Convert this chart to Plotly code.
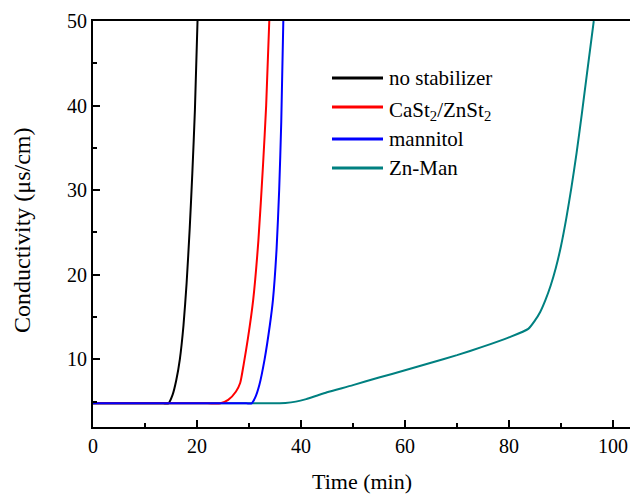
import plotly.graph_objects as go

# ---- data ----
t_none = [0, 5, 10, 13.5, 14.5, 15.3, 16.0, 16.7, 17.4, 18.0, 18.6, 19.1, 19.6, 20.1]
c_none = [4.8, 4.8, 4.8, 4.8, 4.8, 5.8, 7.5, 10.0, 14.0, 19.0, 25.5, 32.0, 39.5, 50.0]

t_ca = [0, 8, 16, 22, 24.5, 26.0, 27.5, 28.3, 29.0, 29.8, 30.8, 31.8, 32.7, 33.3, 33.9]
c_ca = [4.8, 4.8, 4.8, 4.8, 4.8, 5.2, 6.2, 7.2, 9.5, 12.5, 17.0, 24.0, 33.0, 40.0, 50.0]

t_man = [0, 10, 20, 27, 29.5, 30.5, 31.2, 32.0, 33.0, 34.0, 34.6, 35.3, 35.8, 36.2, 36.6]
c_man = [4.8, 4.8, 4.8, 4.8, 4.8, 4.8, 5.5, 7.0, 10.0, 14.0, 17.0, 23.0, 30.0, 38.0, 50.0]

t_zn = [0, 10, 20, 30, 34, 37, 39, 41, 43, 45, 50, 55, 60, 65, 70, 75, 80, 83.7, 85, 86, 87,
        88, 89, 90, 91, 92, 93, 94, 95, 96.3]
c_zn = [4.8, 4.8, 4.8, 4.8, 4.8, 4.85, 5.0, 5.3, 5.7, 6.1, 6.95, 7.85, 8.7, 9.6, 10.5, 11.5, 12.6, 13.6,
        14.6, 15.6, 17.0, 18.7, 20.8, 23.4, 26.6, 30.3, 34.4, 39.0, 43.8, 50.0]

names = ["no stabilizer", "CaSt<sub>2</sub>/ZnSt<sub>2</sub>", "mannitol", "Zn-Man"]
colors = ["#000000", "#ff0000", "#0000ff", "#008080"]
xs = [t_none, t_ca, t_man, t_zn]
ys = [c_none, c_ca, c_man, c_zn]

x_ticks = [0, 20, 40, 60, 80, 100]
y_ticks = [10, 20, 30, 40, 50]

W, H = 630, 494
L, R, T, B = 93, 0, 21, 67
pw, ph = W - L - R, H - T - B

fig = go.Figure()
# draw Zn-Man first so the others overlay at the baseline
order = [3, 0, 1, 2]
for i in order:
    fig.add_trace(go.Scatter(x=xs[i], y=ys[i], mode="lines", name=names[i],
                             line=dict(color=colors[i], width=2, shape="spline", smoothing=0.6),
                             showlegend=False, cliponaxis=True))

font = "Liberation Serif, Times New Roman, serif"

def px_x(p):
    return (p - L) / pw

def px_y(p):
    return (H - B - p) / ph

# manual legend
leg_rows = [78, 107, 139, 168]
shapes = []
annotations = []
for i, yy in enumerate(leg_rows):
    shapes.append(dict(type="line", xref="paper", yref="paper",
                       x0=px_x(332), x1=px_x(383), y0=px_y(yy), y1=px_y(yy),
                       line=dict(color=colors[i], width=3)))
    annotations.append(dict(xref="paper", yref="paper", x=px_x(387),
                            y=px_y(yy + (4 if i == 1 else 0)),
                            text=names[i], showarrow=False, xanchor="left",
                            yanchor="middle",
                            font=dict(family=font, size=21, color="#000")))

annotations.append(dict(xref="paper", yref="paper", x=0.5, y=px_y(481),
                        text="Time (min)", showarrow=False, xanchor="center",
                        yanchor="middle", font=dict(family=font, size=22, color="#000")))
annotations.append(dict(xref="paper", yref="paper", x=px_x(22), y=px_y(230),
                        text="Conductivity (μs/cm)", showarrow=False, textangle=-90,
                        xanchor="center", yanchor="middle",
                        font=dict(family=font, size=24, color="#000")))

fig.update_layout(
    width=W, height=H,
    margin=dict(l=L, r=R, t=T, b=B, pad=0),
    plot_bgcolor="white", paper_bgcolor="white",
    shapes=shapes, annotations=annotations,
    font=dict(family=font, size=20, color="#000"),
)
fig.update_xaxes(range=[0, 103.27], tickvals=x_ticks, ticktext=[str(v) for v in x_ticks],
                 ticks="inside", ticklen=7, tickwidth=2, tickcolor="#000",
                 minor=dict(dtick=10, tick0=0, ticks="inside", ticklen=4, tickwidth=2, tickcolor="#000"),
                 showline=True, linecolor="#000", linewidth=2, mirror=True,
                 showgrid=False, zeroline=False,
                 tickfont=dict(family=font, size=20, color="#000"))
fig.update_yaxes(range=[2, 50], tickvals=y_ticks, ticktext=[str(v) for v in y_ticks],
                 ticks="inside", ticklen=7, tickwidth=2, tickcolor="#000",
                 minor=dict(dtick=5, tick0=0, ticks="inside", ticklen=4, tickwidth=2, tickcolor="#000"),
                 showline=True, linecolor="#000", linewidth=2, mirror=False,
                 showgrid=False, zeroline=False,
                 tickfont=dict(family=font, size=20, color="#000"))

fig.write_html("out.html")
